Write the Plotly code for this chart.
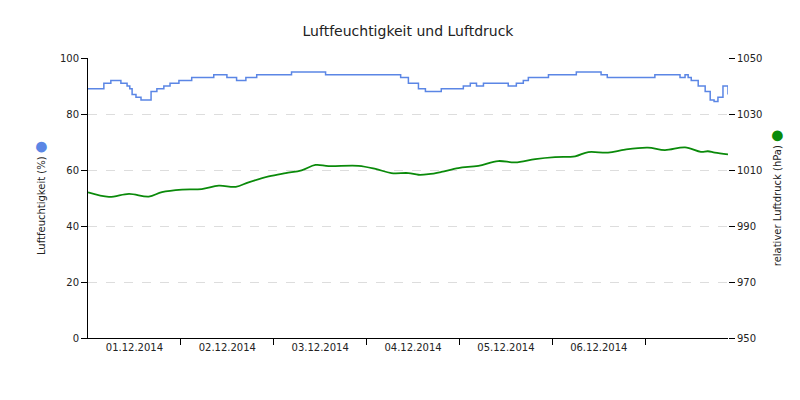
import plotly.graph_objects as go
from datetime import datetime, timedelta

start = datetime(2014, 12, 1, 0, 0)
hum_hours = [0, 4.1, 5.9, 8.5, 10.1, 10.8, 11.4, 12.4, 13.7, 16.3, 17.8, 19.6, 21.2, 23.5, 26.8, 28.6, 32.5, 35.9, 38.4, 40.8, 43.6, 52.6, 61.4, 80.8, 82.8, 85.4, 87.2, 89.3, 91.3, 93.1, 97, 98.8, 100.4, 102.2, 108.6, 110.7, 112.5, 113.8, 119, 126.2, 132.6, 134.2, 146.5, 153, 154.3, 155.1, 155.9, 157.7, 159.5, 160.8, 161.8, 162.8, 164.1, 165.4]
hum_vals = [89, 91, 92, 91, 90, 89, 87, 86, 85, 88, 89, 90, 91, 92, 93, 93, 94, 93, 92, 93, 94, 95, 94, 93, 91, 89, 88, 88, 89, 89, 90, 91, 90, 91, 90, 91, 92, 93, 94, 95, 94, 93, 94, 93, 94, 93, 92, 90, 88, 85, 84.5, 86, 90, 87]
pres_hours = [0, 5.4, 10.6, 15.7, 19.1, 24.3, 29.4, 33.8, 38.2, 41.5, 46.7, 51.1, 55.2, 58.8, 62.2, 69.9, 74.3, 78.4, 82.8, 85.4, 88, 91.3, 95.7, 100.9, 106, 110.4, 115.6, 120.7, 125.9, 129.3, 134.4, 138.8, 144.7, 149.1, 154.3, 158.4, 160.2, 162, 165.4]
pres_vals = [1002, 1000.4, 1001.5, 1000.5, 1002.1, 1003, 1003.2, 1004.4, 1004, 1005.6, 1007.7, 1008.9, 1009.9, 1011.8, 1011.4, 1011.5, 1010.4, 1008.9, 1008.9, 1008.3, 1008.5, 1009.3, 1010.7, 1011.5, 1013.2, 1012.7, 1013.9, 1014.6, 1014.9, 1016.4, 1016.2, 1017.3, 1018, 1017.1, 1018.1, 1016.5, 1016.7, 1016.2, 1015.6]
day_labels = ["01.12.2014", "02.12.2014", "03.12.2014", "04.12.2014", "05.12.2014", "06.12.2014"]

hx = [start + timedelta(hours=h) for h in hum_hours]
px = [start + timedelta(hours=h) for h in pres_hours]
BLUE = "#5b86e5"; GREEN = "#0a8a0a"

fig = go.Figure()
fig.add_trace(go.Scatter(x=hx, y=hum_vals, mode="lines", line=dict(color=BLUE, width=1.5, shape="hv"), yaxis="y"))
fig.add_trace(go.Scatter(x=px, y=pres_vals, mode="lines", line=dict(color=GREEN, width=1.8, shape="spline"), yaxis="y2"))

noon = [start + timedelta(days=i, hours=12) for i in range(6)]
mid = [start + timedelta(days=i + 1) for i in range(6)]
font = dict(family="DejaVu Sans", size=10, color="#222")
dot = "<span style='color:{};font-size:14px'>●</span>"
fig.update_layout(
    width=800, height=400, plot_bgcolor="white", paper_bgcolor="white", showlegend=False,
    margin=dict(l=80, r=80, t=50, b=70), font=font,
    title=dict(text="Luftfeuchtigkeit und Luftdruck", x=0.5, y=0.955, xanchor="center", font=dict(size=14, color="#222")),
    xaxis=dict(range=[start, start + timedelta(hours=165.4)], tickvals=noon, ticktext=day_labels,
               ticks="", showgrid=False, showline=True, linecolor="black", linewidth=1,
               minor=dict(tickvals=mid, ticks="outside", ticklen=6, tickcolor="black", showgrid=False)),
    yaxis=dict(range=[0, 100], tickvals=[0, 20, 40, 60, 80, 100], showgrid=True, gridcolor="#dddddd", griddash="dash",
               showline=True, linecolor="black", ticks="outside", ticklen=6, tickcolor="black", zeroline=False,
               title=dict(text="Luftfeuchtigkeit (%) " + dot.format(BLUE), font=dict(size=10), standoff=12)),
    yaxis2=dict(range=[950, 1050], tickvals=[950, 970, 990, 1010, 1030, 1050], overlaying="y", side="right",
                showgrid=False, showline=False, ticks="outside", ticklen=6, tickcolor="black", zeroline=False,
                title=dict(text="relativer Luftdruck (hPa) " + dot.format(GREEN), font=dict(size=10), standoff=12)),
)
fig.write_html("out.html")
